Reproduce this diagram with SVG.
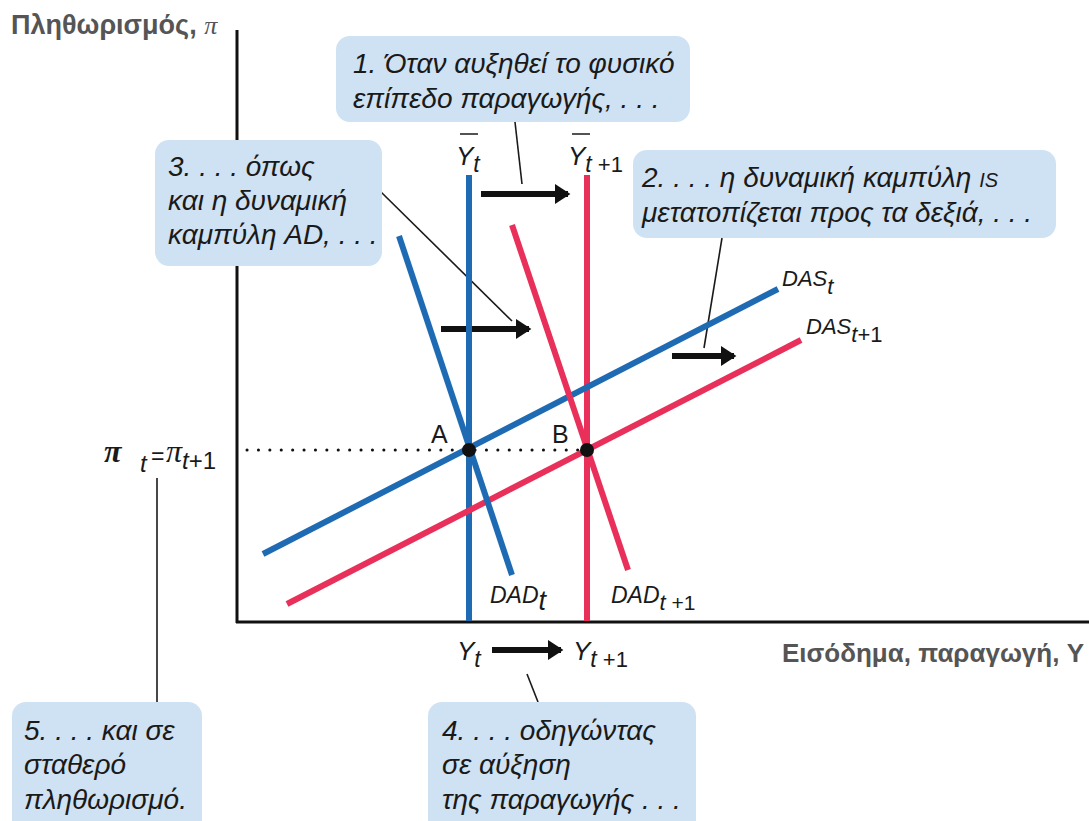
<svg xmlns="http://www.w3.org/2000/svg" width="1089" height="821" viewBox="0 0 1089 821">
<style>
.box{fill:#cfe2f3;}
.ct{font-family:"Liberation Sans",Arial,sans-serif;font-style:italic;font-size:28px;fill:#1a1a1a;}
.ax{font-family:"Liberation Sans",Arial,sans-serif;font-weight:bold;font-size:26px;fill:#555;}
.lb{font-family:"Liberation Sans",Arial,sans-serif;font-style:italic;fill:#1a1a1a;}
.up{font-family:"Liberation Sans",Arial,sans-serif;fill:#1a1a1a;}
.pi{font-family:"Liberation Serif","Times New Roman",serif;font-style:italic;}
.lead{stroke:#1a1a1a;stroke-width:1.6;fill:none;}
.blue{stroke:#1f6bb3;stroke-width:6;fill:none;}
.red{stroke:#e8305a;stroke-width:6;fill:none;}
.arr{stroke:#111;stroke-width:6;fill:none;}
</style>
<defs>
<marker id="ah" markerWidth="4" markerHeight="4" refX="2.2" refY="2" orient="auto" markerUnits="strokeWidth">
<path d="M0,0.3 L2.6,2 L0,3.7 Z" fill="#111"/>
</marker>
</defs>
<rect width="1089" height="821" fill="#fff"/>

<g id="axes">
<line x1="237" y1="30" x2="237" y2="623" stroke="#111" stroke-width="3"/>
<line x1="236" y1="622" x2="1089" y2="622" stroke="#111" stroke-width="3"/>
<text class="ax" x="11" y="34" style="font-size:27px">Πληθωρισμός, <tspan class="pi" font-weight="normal" font-size="26">π</tspan></text>
<text class="ax" x="1084" y="662" text-anchor="end">Εισόδημα, παραγωγή, Y</text>
</g>

<g id="connectors">
<line x1="247" y1="450" x2="590" y2="450" stroke="#111" stroke-width="3" stroke-dasharray="0.1 11.3" stroke-linecap="round"/>
<line class="lead" x1="515" y1="122" x2="522" y2="184"/>
<line class="lead" x1="381" y1="192" x2="512" y2="321"/>
<line class="lead" x1="722" y1="238" x2="704" y2="348"/>
<line class="lead" x1="527" y1="674" x2="538" y2="702"/>
<line class="lead" x1="157" y1="478" x2="157" y2="702"/>
<line class="arr" x1="481" y1="194" x2="568" y2="194" marker-end="url(#ah)"/>
<line class="arr" x1="441" y1="329" x2="529" y2="329" marker-end="url(#ah)"/>
<line class="arr" x1="672" y1="356" x2="734" y2="356" marker-end="url(#ah)"/>
<line class="arr" x1="492" y1="650" x2="561" y2="650" marker-end="url(#ah)"/>
</g>

<g id="curves">
<line class="blue" x1="469" y1="175" x2="469" y2="621"/>
<line class="red" x1="587" y1="175" x2="587" y2="621"/>
<line class="blue" x1="263" y1="554" x2="778" y2="289"/>
<line class="red" x1="287" y1="604" x2="801" y2="340"/>
<line class="blue" x1="399" y1="236" x2="512" y2="575"/>
<line class="red" x1="512" y1="225" x2="628" y2="570"/>
<circle cx="469" cy="450" r="7" fill="#111"/>
<circle cx="587" cy="450" r="7" fill="#111"/>
</g>

<g id="labels">
<text class="up" x="431" y="443" font-size="25">A</text>
<text class="up" x="552" y="443" font-size="25">B</text>
<g id="ybar-t">
<text class="lb" x="456" y="165" font-size="26">Y<tspan font-size="23" dy="7">t</tspan></text>
<line x1="460" y1="134" x2="478" y2="134" stroke="#1a1a1a" stroke-width="1.5"/>
</g>
<g id="ybar-t1">
<text class="lb" x="568" y="165" font-size="26">Y<tspan font-size="23" dy="7">t</tspan><tspan font-style="normal" font-size="22"> +1</tspan></text>
<line x1="572" y1="134" x2="590" y2="134" stroke="#1a1a1a" stroke-width="1.5"/>
</g>
<text class="lb" x="782" y="286" font-size="22">DAS<tspan dy="8" font-size="22">t</tspan></text>
<text class="lb" x="806" y="334" font-size="22">DAS<tspan dy="8" font-size="22">t</tspan><tspan font-style="normal" font-size="22">+1</tspan></text>
<text class="lb" x="490" y="603" font-size="23">DAD<tspan dy="7" font-size="27">t</tspan></text>
<text class="lb" x="611" y="603" font-size="23">DAD<tspan dy="7" font-size="22">t</tspan><tspan font-style="normal" font-size="21"> +1</tspan></text>
<text class="lb" x="457" y="660" font-size="26">Y<tspan dy="7" font-size="23">t</tspan></text>
<text class="lb" x="573" y="660" font-size="26">Y<tspan dy="7" font-size="23">t</tspan><tspan font-style="normal" font-size="22"> +1</tspan></text>
<text class="pi" x="104" y="462" font-size="32" font-weight="bold" fill="#1a1a1a">π</text>
<text class="lb" x="140" y="472" font-size="24">t</text>
<text class="up" x="151" y="464" font-size="23">=</text>
<text class="pi" x="166" y="462" font-size="32" fill="#1a1a1a">π<tspan font-family="Liberation Sans, Arial, sans-serif" font-size="24" dy="7">t</tspan><tspan font-family="Liberation Sans, Arial, sans-serif" font-style="normal" font-size="24">+1</tspan></text>
</g>

<g id="callout1">
<rect class="box" x="336" y="36" width="354" height="86" rx="14"/>
<text class="ct" x="353" y="73">1. Όταν αυξηθεί το φυσικό</text>
<text class="ct" x="353" y="108">επίπεδο παραγωγής, . . .</text>
</g>
<g id="callout2">
<rect class="box" x="633" y="150" width="423" height="88" rx="14"/>
<text class="ct" x="642" y="187">2. . . . η δυναμική καμπύλη <tspan font-size="20">IS</tspan></text>
<text class="ct" x="642" y="222">μετατοπίζεται προς τα δεξιά, . . .</text>
</g>
<g id="callout3">
<rect class="box" x="155" y="140" width="227" height="126" rx="14"/>
<text class="ct" x="168" y="176">3. . . . όπως</text>
<text class="ct" x="168" y="210">και η δυναμική</text>
<text class="ct" x="168" y="244">καμπύλη AD, . . .</text>
</g>
<g id="callout4">
<rect class="box" x="428" y="702" width="268" height="134" rx="14"/>
<text class="ct" x="442" y="740">4. . . . οδηγώντας</text>
<text class="ct" x="442" y="774">σε αύξηση</text>
<text class="ct" x="442" y="809">της παραγωγής . . .</text>
</g>
<g id="callout5">
<rect class="box" x="12" y="702" width="190" height="134" rx="14"/>
<text class="ct" x="24" y="740">5. . . . και σε</text>
<text class="ct" x="24" y="774">σταθερό</text>
<text class="ct" x="24" y="809">πληθωρισμό.</text>
</g>
</svg>
